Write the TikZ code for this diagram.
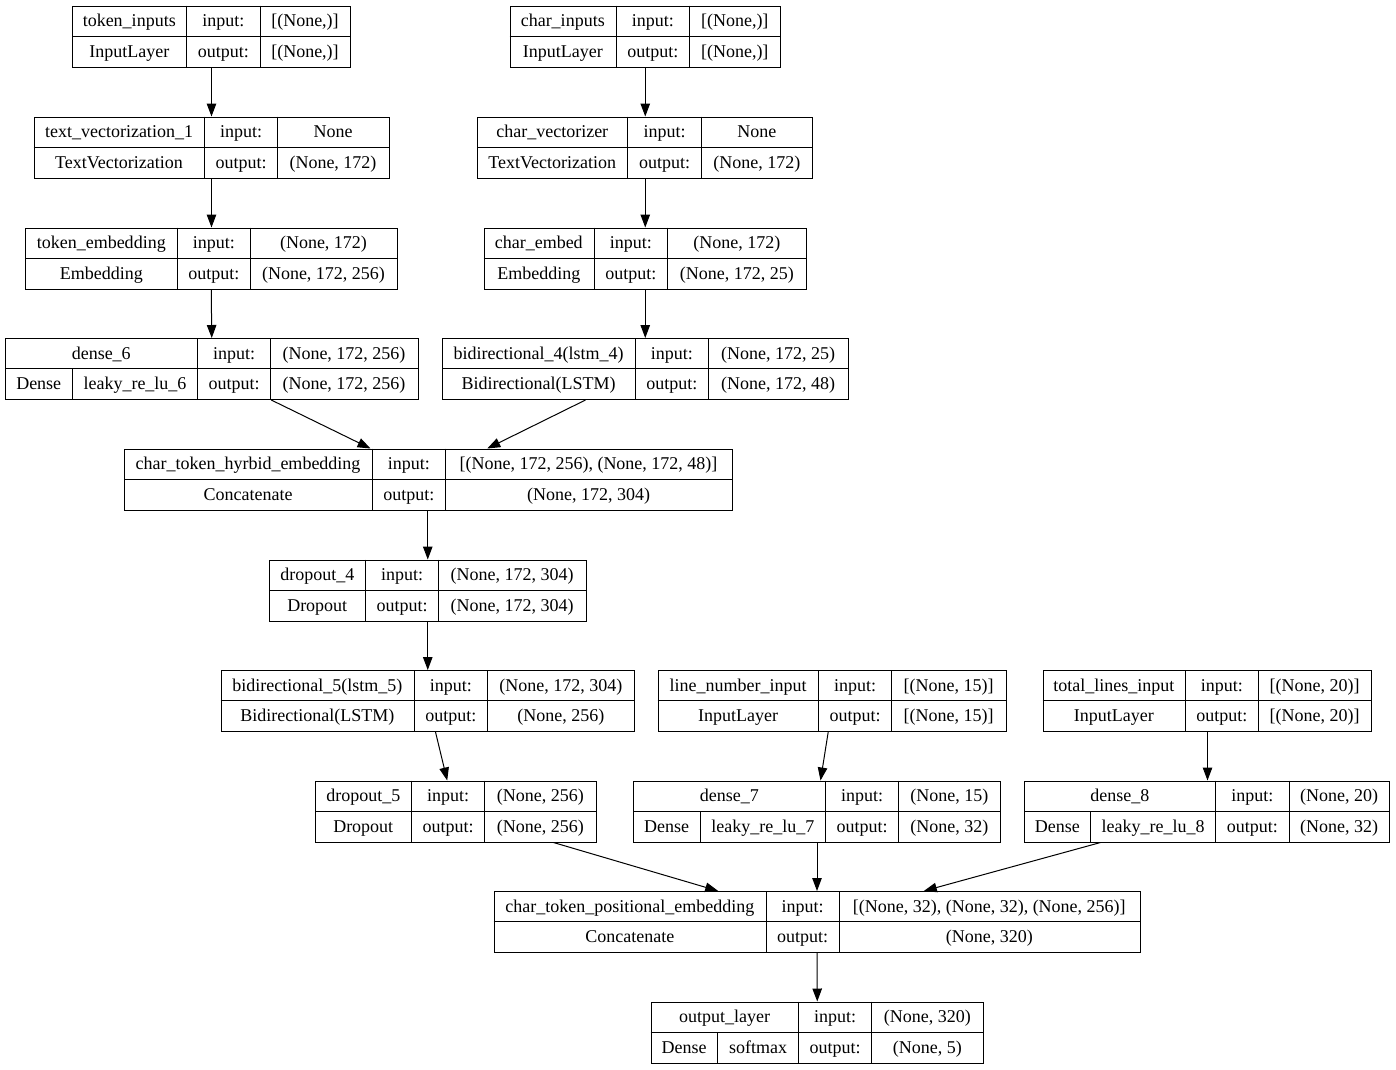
\documentclass[tikz,border=0pt]{standalone}
\usepackage{fontspec}
\setmainfont{Liberation Serif}
\usetikzlibrary{arrows.meta}

\tikzstyle{laybox} = [draw, line width=1pt, inner sep=0pt, anchor=north west]
\tikzstyle{cellline} = [line width=1pt]
\tikzstyle{celltext} = [anchor=base, inner sep=0pt, font=\fontsize{18}{20}\selectfont]
\tikzstyle{arr} = [line width=1pt, -{Triangle[length=13pt, width=9.5pt]}]

%column borders of one layer: left/div/div/right
\def\layerxs#1/#2/#3/#4\relax{\def\colA{#1}\def\colB{#2}\def\colC{#3}\def\colD{#4}}
%dense layers have one more border in the lower row
\def\densexs#1/#2/#3/#4/#5\relax{\def\colA{#1}\def\colS{#2}\def\colB{#3}\def\colC{#4}\def\colD{#5}}

\newcommand{\drawlayer}[5]{%
  \node[laybox, minimum width=\colD-\colA, minimum height=61] (#1) at (\colA,#2) {};
  \draw[cellline] (\colA,#2+30.5) -- (\colD,#2+30.5);
  \draw[cellline] (\colB,#2) -- (\colB,#2+61);
  \draw[cellline] (\colC,#2) -- (\colC,#2+61);
  \node[celltext] (#1-t) at ({(\colA+\colB)/2},#2+21) {#3};
  \node[celltext] (#1-i) at ({(\colB+\colC)/2},#2+21) {input:};
  \node[celltext] (#1-iv) at ({(\colC+\colD)/2},#2+21) {#4};
  \node[celltext] (#1-o) at ({(\colB+\colC)/2},#2+51.5) {output:};
  \node[celltext] (#1-ov) at ({(\colC+\colD)/2},#2+51.5) {#5};
}
\newcommand{\layerbox}[7]{%
  \layerxs#3\relax
  \drawlayer{#1}{#2}{#4}{#6}{#7}
  \node[celltext] (#1-c) at ({(\colA+\colB)/2},#2+51.5) {#5};
}
\newcommand{\denselayer}[7]{%
  \densexs#3\relax
  \drawlayer{#1}{#2}{#4}{#6}{#7}
  \draw[cellline] (\colS,#2+30.5) -- (\colS,#2+61);
  \node[celltext] (#1-k) at ({(\colA+\colS)/2},#2+51.5) {Dense};
  \node[celltext] (#1-a) at ({(\colS+\colB)/2},#2+51.5) {#5};
}

\begin{document}
\begin{tikzpicture}[x=1pt, y=-1pt]
\useasboundingbox (0,0) rectangle (1396,1069);
%begin token branch
\layerbox{tokin}{5.5}{72/186.5/260/350}{token\_inputs}{InputLayer}{[(None,)]}{[(None,)]}
\layerbox{tokvec}{116.5}{33.5/204.5/277.5/388.5}{text\_vectorization\_1}{TextVectorization}{None}{(None, 172)}
\layerbox{tokemb}{227.5}{25/177.5/250/397}{token\_embedding}{Embedding}{(None, 172)}{(None, 172, 256)}
\denselayer{dense6}{338}{5/72.5/197.5/270.5/417.5}{dense\_6}{leaky\_re\_lu\_6}{(None, 172, 256)}{(None, 172, 256)}
%end token branch
%begin char branch
\layerbox{charin}{5.5}{509.5/616/689.5/780}{char\_inputs}{InputLayer}{[(None,)]}{[(None,)]}
\layerbox{charvec}{116.5}{477/627.5/701.5/812}{char\_vectorizer}{TextVectorization}{None}{(None, 172)}
\layerbox{charemb}{227.5}{483.5/594/667.5/806}{char\_embed}{Embedding}{(None, 172)}{(None, 172, 25)}
\layerbox{bidir4}{338}{442/635/708.5/847.5}{bidirectional\_4(lstm\_4)}{Bidirectional(LSTM)}{(None, 172, 25)}{(None, 172, 48)}
%end char branch
%begin hybrid
\layerbox{hybrid}{448.5}{124/372/445.5/731.5}{char\_token\_hyrbid\_embedding}{Concatenate}{[(None, 172, 256), (None, 172, 48)]}{(None, 172, 304)}
\layerbox{drop4}{559.5}{269/365.5/438.5/585.5}{dropout\_4}{Dropout}{(None, 172, 304)}{(None, 172, 304)}
\layerbox{bidir5}{670}{220.5/414/487.5/634}{bidirectional\_5(lstm\_5)}{Bidirectional(LSTM)}{(None, 172, 304)}{(None, 256)}
\layerbox{drop5}{780.5}{315/411.5/484.5/596}{dropout\_5}{Dropout}{(None, 256)}{(None, 256)}
%end hybrid
%begin positions
\layerbox{linenum}{670}{657.5/818.5/891.5/1005.5}{line\_number\_input}{InputLayer}{[(None, 15)]}{[(None, 15)]}
\layerbox{totlines}{670}{1042.5/1185/1258.5/1370.5}{total\_lines\_input}{InputLayer}{[(None, 20)]}{[(None, 20)]}
\denselayer{dense7}{780.5}{633/700/825.5/898.5/1000}{dense\_7}{leaky\_re\_lu\_7}{(None, 15)}{(None, 32)}
\denselayer{dense8}{780.5}{1024/1090.5/1215.5/1289/1389}{dense\_8}{leaky\_re\_lu\_8}{(None, 20)}{(None, 32)}
%end positions
%begin output
\layerbox{ctpe}{891}{493.5/766/839/1139.5}{char\_token\_positional\_embedding}{Concatenate}{[(None, 32), (None, 32), (None, 256)]}{(None, 320)}
\denselayer{outl}{1001.5}{650.5/717.5/798.5/871.5/983}{output\_layer}{softmax}{(None, 320)}{(None, 5)}
%end output
%edges
\draw[arr] (tokin.south) -- (tokvec.north);
\draw[arr] (tokvec.south) -- (tokemb.north);
\draw[arr] ([xshift=-0.25pt]tokemb.south) -- (dense6.north);
\draw[arr] (charin.south) -- ([xshift=0.25pt]charvec.north);
\draw[arr] ([xshift=0.25pt]charvec.south) -- (charemb.north);
\draw[arr] (charemb.south) -- (bidir4.north);
\draw[arr] ([xshift=59.5pt]dense6.south) -- ([xshift=-57.75pt]hybrid.north);
\draw[arr] ([xshift=-59.75pt]bidir4.south) -- ([xshift=59pt]hybrid.north);
\draw[arr] ([xshift=-0.5pt]hybrid.south) -- (drop4.north);
\draw[arr] (drop4.south) -- (bidir5.north);
\draw[arr] ([xshift=7.75pt]bidir5.south) -- ([xshift=-8.8pt]drop5.north);
\draw[arr] ([xshift=-3.8pt]linenum.south) -- ([xshift=3.5pt]dense7.north);
\draw[arr] ([xshift=0.5pt]totlines.south) -- ([xshift=0.5pt]dense8.north);
\draw[arr] ([xshift=97.5pt]drop5.south) -- ([xshift=-98.8pt]ctpe.north);
\draw[arr] (dense7.south) -- (ctpe.north);
\draw[arr] ([xshift=-106.5pt]dense8.south) -- ([xshift=106.8pt]ctpe.north);
\draw[arr] (ctpe.south) -- (outl.north);
\end{tikzpicture}
\end{document}
